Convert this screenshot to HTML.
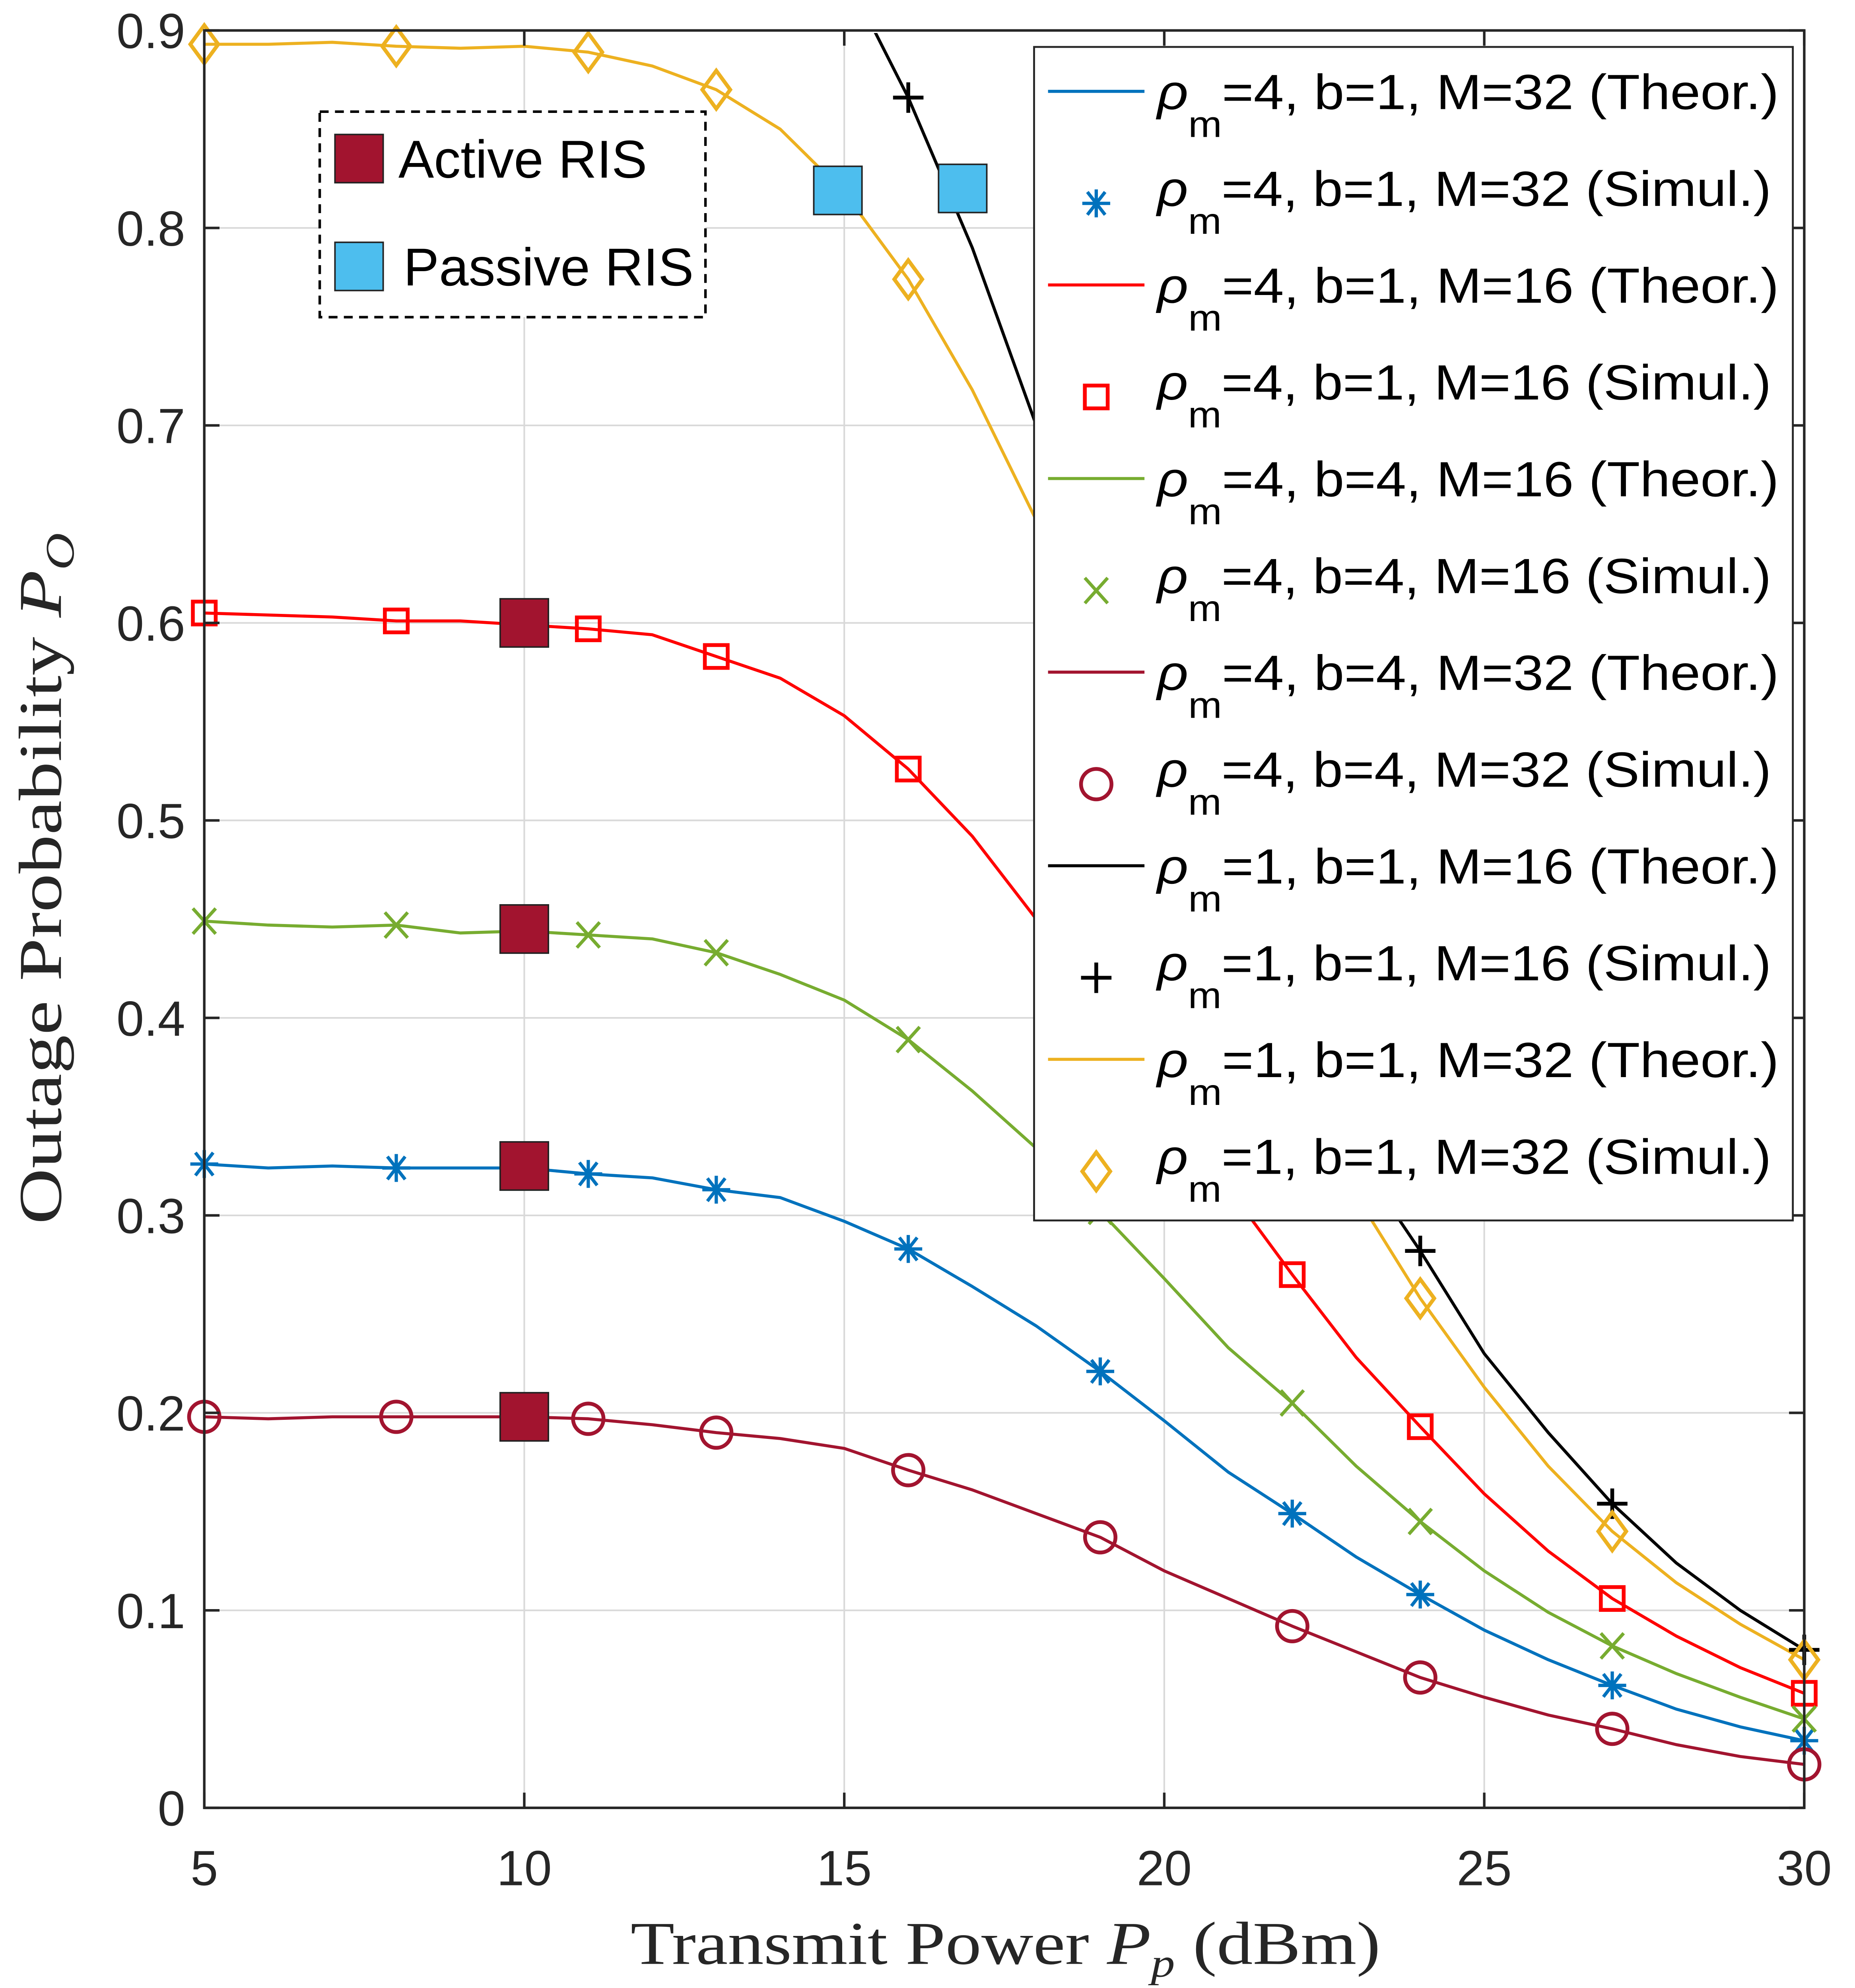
<!DOCTYPE html>
<html><head><meta charset="utf-8"><style>html,body{margin:0;padding:0;background:#fff;overflow:hidden;width:4665px;height:5007px}svg{display:block}</style></head>
<body>
<svg id="chart" xmlns="http://www.w3.org/2000/svg" width="4665" height="5007" viewBox="0 0 1462 1569.2" preserveAspectRatio="none" font-family="'Liberation Sans', sans-serif">
<defs><clipPath id="clip"><rect x="161" y="26" width="1261" height="1399"/></clipPath></defs>
<rect x="0" y="0" width="1462" height="1570" fill="#fff"/>
<g id="grid"></g>
<g id="series" clip-path="url(#clip)"></g>
<g id="markers"></g>
<g id="axes"></g>
<g id="legend"></g>
</svg>
<script>
const xTicks=[5,10,15,20,25,30];
const yTicks=[0,0.1,0.2,0.3,0.4,0.5,0.6,0.7,0.8,0.9];
const yTickLabels=["0","0.1","0.2","0.3","0.4","0.5","0.6","0.7","0.8","0.9"];
const xTheory=[5,6,7,8,9,10,11,12,13,14,15,16,17,18,19,20,21,22,23,24,25,26,27,28,29,30];
const xSim=[5,8,11,13,16,19,22,24,27,30];
const blueTheory=[.326,.324,.325,.324,.324,.324,.321,.319,.313,.309,.297,.283,.264,.244,.221,.196,.170,.149,.127,.108,.090,.075,.062,.050,.041,.034];
const redTheory=[.605,.604,.603,.601,.601,.599,.597,.594,.583,.572,.553,.526,.492,.450,.405,.360,.314,.270,.228,.193,.159,.130,.106,.087,.071,.058];
const greenTheory=[.449,.447,.446,.447,.443,.444,.442,.440,.433,.422,.409,.389,.363,.334,.302,.268,.233,.205,.173,.145,.120,.099,.082,.068,.056,.045];
const maroonTheory=[.198,.197,.198,.198,.198,.198,.197,.194,.190,.187,.182,.171,.161,.149,.137,.120,.106,.092,.079,.066,.056,.047,.040,.032,.026,.022];
const blackTheory=[1.3,1.25,1.2,1.15,1.1,1.06,1.03,1.0,.98,.96,.93,.866,.79,.70,.61,.52,.44,.38,.33,.282,.230,.190,.154,.124,.100,.080];
const yellowTheory=[.893,.893,.894,.892,.891,.892,.889,.882,.870,.850,.818,.774,.718,.652,.580,.500,.430,.365,.310,.258,.213,.173,.140,.114,.093,.075];
const activeX=[10,10,10,10];
const activeY=[.600,.445,.325,.198];
const passiveX=[14.9,16.85];
const passiveY=[.819,.820];
const legendLabels=["=4, b=1, M=32 (Theor.)","=4, b=1, M=32 (Simul.)","=4, b=1, M=16 (Theor.)","=4, b=1, M=16 (Simul.)","=4, b=4, M=16 (Theor.)","=4, b=4, M=16 (Simul.)","=4, b=4, M=32 (Theor.)","=4, b=4, M=32 (Simul.)","=1, b=1, M=16 (Theor.)","=1, b=1, M=16 (Simul.)","=1, b=1, M=32 (Theor.)","=1, b=1, M=32 (Simul.)"];

const NS="http://www.w3.org/2000/svg";
const X0=161,X1=1422,Y0=1425,Y1=24;
const sx=v=>X0+(v-5)/25*(X1-X0);
const sy=v=>Y0-v/0.9*(Y0-Y1);
function mk(tag,attrs,parent){const e=document.createElementNS(NS,tag);for(const k in attrs)e.setAttribute(k,attrs[k]);parent.appendChild(e);return e;}
const grid=document.getElementById('grid'),ser=document.getElementById('series'),mg=document.getElementById('markers'),ax=document.getElementById('axes'),lg=document.getElementById('legend');
xTicks.forEach(t=>{const l=mk('line',{x1:sx(t),x2:sx(t),y1:Y1,y2:Y0,stroke:'#d9d9d9','stroke-width':1.3},grid);

});
yTicks.forEach(t=>{const l=mk('line',{x1:X0,x2:X1,y1:sy(t),y2:sy(t),stroke:'#d9d9d9','stroke-width':1.3},grid);

});

function line(ys,color,name){const pts=xTheory.map((x,i)=>sx(x)+','+sy(ys[i])).join(' ');
const p=mk('polyline',{points:pts,fill:'none',stroke:color,'stroke-width':2.4,'stroke-linejoin':'round'},ser);

}
function marker(type,cx,cy,color,parent){const g=mk('g',{stroke:color,'stroke-width':2.6,fill:'none'},parent);
if(type==='star'){const r=11;mk('line',{x1:cx-r,x2:cx+r,y1:cy,y2:cy},g);mk('line',{x1:cx,x2:cx,y1:cy-r,y2:cy+r},g);mk('line',{x1:cx-7,x2:cx+7,y1:cy-9,y2:cy+9},g);mk('line',{x1:cx-7,x2:cx+7,y1:cy+9,y2:cy-9},g);}
else if(type==='square'){mk('rect',{x:cx-9,y:cy-9,width:18,height:18,'stroke-width':3},g);}
else if(type==='x'){mk('line',{x1:cx-9,x2:cx+9,y1:cy-10,y2:cy+10},g);mk('line',{x1:cx-9,x2:cx+9,y1:cy+10,y2:cy-10},g);}
else if(type==='circle'){mk('circle',{cx:cx,cy:cy,r:12,'stroke-width':3},g);}
else if(type==='plus'){mk('line',{x1:cx-12,x2:cx+12,y1:cy,y2:cy,'stroke-width':3},g);mk('line',{x1:cx,x2:cx,y1:cy-12,y2:cy+12,'stroke-width':3},g);}
else if(type==='diamond'){mk('polygon',{points:`${cx},${cy-15} ${cx+11},${cy} ${cx},${cy+15} ${cx-11},${cy}`,'stroke-width':3},g);}
return g;}
function sims(ys,type,color,name){xSim.forEach(x=>{const i=xTheory.indexOf(x);const v=ys[i];if(v>0.905)return;const g=marker(type,sx(x),sy(v),color,mg);

});}
const S=[[blueTheory,'#0072bd','star','blue'],[redTheory,'#ff0000','square','red'],[greenTheory,'#77ac30','x','green'],[maroonTheory,'#a2142f','circle','maroon'],[blackTheory,'#000000','plus','black'],[yellowTheory,'#edb120','diamond','yellow']];
S.forEach(s=>{line(s[0],s[1],s[3]+'-theory-line');sims(s[0],s[2],s[1],s[3]+'-sim-marker');});

activeX.forEach((x,i)=>{const r=mk('rect',{x:sx(x)-19,y:sy(activeY[i])-19,width:38,height:38,fill:'#a2142f',stroke:'#222','stroke-width':1.2},mg);

});
passiveX.forEach((x,i)=>{const r=mk('rect',{x:sx(x)-19,y:sy(passiveY[i])-19,width:38,height:38,fill:'#4dbeee',stroke:'#222','stroke-width':1.2},mg);

});

const box=mk('rect',{x:X0,y:Y1,width:X1-X0,height:Y0-Y1,fill:'none',stroke:'#262626','stroke-width':2},ax);


xTicks.forEach(t=>{mk('line',{x1:sx(t),x2:sx(t),y1:Y0,y2:Y0-12,stroke:'#262626','stroke-width':2},ax);mk('line',{x1:sx(t),x2:sx(t),y1:Y1,y2:Y1+12,stroke:'#262626','stroke-width':2},ax);
const tx=mk('text',{x:sx(t),y:1486,'text-anchor':'middle','font-size':39,fill:'#262626'},ax);tx.textContent=t;

});
yTicks.forEach((t,i)=>{mk('line',{x1:X0,x2:X0+12,y1:sy(t),y2:sy(t),stroke:'#262626','stroke-width':2},ax);mk('line',{x1:X1,x2:X1-12,y1:sy(t),y2:sy(t),stroke:'#262626','stroke-width':2},ax);
const tx=mk('text',{x:146,y:sy(t)+14,'text-anchor':'end','font-size':39,fill:'#262626'},ax);tx.textContent=yTickLabels[i];

});
const xt=mk('text',{x:497,y:1548,'font-size':48,fill:'#262626','font-family':"'Liberation Serif', serif",textLength:591,lengthAdjust:'spacingAndGlyphs'},ax);
xt.innerHTML='Transmit Power <tspan font-style="italic">P</tspan><tspan font-style="italic" font-size="32" dy="10">p</tspan><tspan dy="-10"> (dBm)</tspan>';


const yt=mk('text',{x:0,y:0,'font-size':48,fill:'#262626','font-family':"'Liberation Serif', serif",textLength:545,lengthAdjust:'spacingAndGlyphs',transform:'translate(48,965) rotate(-90)'},ax);
yt.innerHTML='Outage Probability <tspan font-style="italic">P</tspan><tspan font-style="italic" font-size="32" dy="10">O</tspan>';



const lb=mk('rect',{x:815,y:37,width:598,height:925,fill:'#fff',stroke:'#262626','stroke-width':1.5},lg);


legendLabels.forEach((lab,i)=>{const y=72+i*76.3;const s=S[Math.floor(i/2)];
const g=mk('g',{},lg);


if(i%2===0)mk('line',{x1:826,x2:902,y1:y,y2:y,stroke:s[1],'stroke-width':2.4},g);else marker(s[2],864,y+12,s[1],g);
const t=mk('text',{x:912,y:y+14,'font-size':39,fill:'#000',textLength:(i%2===0?490:484),lengthAdjust:'spacingAndGlyphs'},g);
t.innerHTML='<tspan font-style="italic">ρ</tspan><tspan font-size="29" dy="22">m</tspan><tspan dy="-22">'+lab+'</tspan>';});

const ib=mk('rect',{x:252,y:88,width:304,height:162,fill:'#fff',stroke:'#000','stroke-width':2,'stroke-dasharray':'7,5'},lg);


const a=mk('rect',{x:264,y:106,width:38,height:38,fill:'#a2142f',stroke:'#222','stroke-width':1.2},lg);


const at=mk('text',{x:314,y:140,'font-size':42,fill:'#000'},lg);at.textContent='Active RIS';


const p=mk('rect',{x:264,y:191,width:38,height:38,fill:'#4dbeee',stroke:'#222','stroke-width':1.2},lg);


const pt=mk('text',{x:318,y:225,'font-size':42,fill:'#000'},lg);pt.textContent='Passive RIS';


</script>
</body></html>
